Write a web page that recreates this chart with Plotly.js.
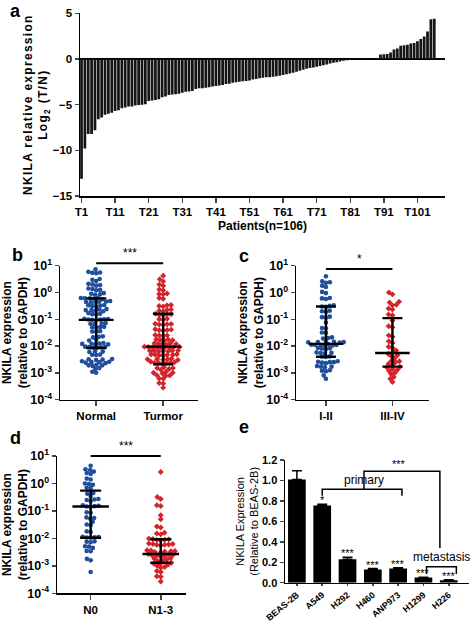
<!DOCTYPE html>
<html><head><meta charset="utf-8">
<script src="https://cdn.plot.ly/plotly-3.0.1.min.js"></script>
<style>body{margin:0;background:#fff}.ytitle{letter-spacing:1.3px}</style>
</head><body><div id="chart" style="width:472px;height:623px"></div>
<script>
// ---------- DATA ----------
const patientLog2 = [-13.1,-9.8,-8.2,-8.2,-7.8,-6.6,-6.4,-6.1,-6.0,-5.9,
-5.7,-5.6,-5.4,-5.3,-5.2,-5.2,-5.1,-5.05,-5.0,-4.95,
-4.6,-4.55,-4.5,-4.4,-4.2,-4.1,-3.95,-3.9,-3.85,-3.8,
-3.7,-3.6,-3.55,-3.5,-3.3,-3.2,-3.2,-3.15,-3.1,-3.0,
-2.95,-2.9,-2.85,-2.75,-2.7,-2.6,-2.55,-2.5,-2.45,-2.4,
-2.35,-2.25,-2.2,-2.1,-2.05,-2.0,-2.0,-1.95,-1.9,-1.85,
-1.75,-1.68,-1.6,-1.5,-1.4,-1.28,-1.18,-1.08,-1.0,-0.92,
-0.85,-0.77,-0.7,-0.6,-0.5,-0.42,-0.35,-0.28,-0.2,-0.14,
-0.1,-0.06,-0.04,-0.03,-0.02,-0.02,-0.01,0.01,0.02,
0.5,0.52,0.55,0.7,1.05,1.15,1.45,1.5,1.55,1.7,1.75,1.95,2.2,2.45,3.0,4.35,4.4];
const patientTicks = [1,11,21,31,41,51,61,71,81,91,101];
const patientTickLabels = ['T1','T11','T21','T31','T41','T51','T61','T71','T81','T91','T101'];

const groupsB = ['Normal','Turmor'];
const normalB = [7.3,5.2,5.6,5.9,5.4,2.7,3.0,3.2,1.8,2.0,1.9,2.1,1.25,1.35,1.2,1.4,0.85,0.9,0.82,0.95,
0.58,0.62,0.6,0.64,0.56,0.61,0.44,0.46,0.42,0.48,0.45,0.43,0.31,0.33,0.3,0.34,0.32,
0.21,0.23,0.22,0.2,0.24,0.22,0.15,0.16,0.17,0.155,0.095,0.1,0.105,0.098,0.092,0.102,0.097,
0.068,0.072,0.07,0.066,0.05,0.048,0.052,0.051,0.034,0.036,0.035,0.022,0.021,0.023,0.017,0.016,
0.012,0.0125,0.0118,0.0122,0.013,0.0115,0.009,0.0088,0.0092,0.0095,0.0086,0.0091,
0.0062,0.006,0.0064,0.0047,0.0046,0.0048,0.0032,0.0031,0.0033,0.003,
0.0025,0.0026,0.0024,0.0025,0.0027,0.0023,0.0019,0.0018,0.002,0.0019,0.0014,0.0015,0.0011,0.001];
const tumorB = [4.2,2.6,3.1,1.8,2.0,1.3,1.2,0.88,0.92,0.85,0.58,0.62,0.33,0.31,0.34,0.3,0.22,0.21,0.23,0.2,
0.15,0.155,0.145,0.16,0.14,0.1,0.095,0.105,0.065,0.062,0.068,0.064,0.066,0.04,0.038,0.042,0.041,0.039,
0.025,0.026,0.024,0.025,0.017,0.018,0.016,0.0175,0.0165,0.012,0.0125,0.0118,0.0122,0.0128,0.0115,
0.009,0.0092,0.0088,0.0095,0.0085,0.0091,0.0089,0.0093,0.0087,
0.0065,0.0063,0.0067,0.0064,0.0066,0.0062,0.0068,0.0047,0.0046,0.0048,0.0045,0.0049,0.0047,0.0044,
0.0032,0.0031,0.0033,0.003,0.0034,0.0032,0.0024,0.0025,0.0023,0.0024,0.0026,0.0022,0.0024,
0.0015,0.0016,0.0014,0.0015,0.0013,0.001,0.0011,0.00095,0.001,0.0008,0.00082,0.00078,
0.0006,0.00062,0.0004,0.00042,0.00028];
const medB = [0.095,0.0095], q1B = [0.0085,0.0021], q3B = [0.6,0.16];

const groupsC = ['I-II','III-IV'];
const stage12 = [4.0,2.4,2.6,2.3,1.6,1.8,0.95,1.05,0.6,0.62,0.57,0.3,0.32,0.29,0.33,0.2,0.21,0.19,
0.12,0.125,0.115,0.075,0.045,0.047,0.032,0.031,0.02,0.021,0.019,
0.014,0.0145,0.0135,0.015,0.0138,0.0142,0.011,0.0112,0.0108,0.0115,0.0105,0.0111,0.0109,
0.008,0.0082,0.0078,0.0085,0.0055,0.0056,0.0054,0.0058,0.004,0.0041,0.0039,
0.0025,0.0026,0.0024,0.0027,0.0023,0.0025,0.0017,0.0018,0.0016,0.0017,0.0012,0.00125,0.00115,0.0008,0.0006];
const stage34 = [1.0,0.85,0.45,0.42,0.35,0.33,0.25,0.23,0.15,0.14,
0.09,0.055,0.05,0.025,0.022,0.015,0.013,0.0095,0.0085,0.0068,
0.0058,0.0052,0.0045,0.0042,0.0035,0.0028,0.0027,0.0025,0.0022,0.002,
0.0017,0.0016,0.0014,0.0013,0.0012,0.001,0.0009,0.0007,0.0006,0.00045];
const medC = [0.012,0.0055], q1C = [0.004,0.0017], q3C = [0.3,0.11];

const groupsD = ['N0','N1-3'];
const n0 = [4.4,3.1,2.7,3.3,2.4,2.2,1.5,1.4,1.0,0.95,0.9,0.7,0.68,0.42,0.45,0.35,0.25,0.27,0.23,0.26,
0.15,0.14,0.16,0.145,0.155,0.09,0.085,0.055,0.058,0.052,0.04,0.03,0.032,0.018,0.017,
0.011,0.0105,0.0112,0.0108,0.0115,0.0075,0.0078,0.0072,0.005,0.0052,0.0045,0.0034,0.0035,0.0018,0.0016,0.0006];
const n13 = [2.6,0.32,0.27,0.16,0.15,0.07,0.05,0.025,0.027,0.015,0.014,0.016,
0.009,0.0095,0.0088,0.0092,0.0085,0.0098,0.006,0.0062,0.0058,0.0065,0.0055,0.0063,0.0059,
0.0034,0.0035,0.0032,0.0036,0.0033,0.0031,0.0037,0.0025,0.0024,0.0026,0.0023,0.0027,0.0024,0.0022,
0.0017,0.0018,0.0016,0.0019,0.0015,0.0012,0.0013,0.0011,0.0012,0.0009,0.001,0.00085,
0.0006,0.00065,0.0004,0.00042,0.00027];
const medD = [0.145,0.0027], q1D = [0.0105,0.0013], q3D = [0.55,0.0093];

const cellLines = ['BEAS-2B','A549','H292','H460','ANP973','H1299','H226'];
const cellMeans = [1.01,0.755,0.23,0.13,0.14,0.05,0.025];
const cellErr = [0.085,0.012,0.018,0.008,0.005,0.004,0.004];
const cellStars = ['','*','***','***','***','***','***'];

// ---------- HELPERS ----------
const W = 472, H = 623;
const px = x => x / W, py = y => 1 - y / H;
const FONT = 'Liberation Sans, Arial, sans-serif';
const BLUE = '#1f4e9b', RED = '#d3242b';

function swarm(vals, plotH, unitPx, d) {
  const ys = vals.map(v => (Math.log10(v) + 4) / 5 * plotH);
  const order = ys.map((y, i) => i).sort((a, b) => ys[a] - ys[b]);
  const placed = [], xs = new Array(vals.length);
  for (const i of order) {
    const y = ys[i];
    const ivs = placed.filter(p => Math.abs(p.y - y) < d).map(p => {
      const dx = Math.sqrt(d * d - (p.y - y) * (p.y - y)); return [p.x - dx, p.x + dx];
    });
    const cands = [0]; ivs.forEach(iv => cands.push(iv[0], iv[1]));
    cands.sort((a, b) => Math.abs(a) - Math.abs(b));
    let x = 0;
    for (const c of cands) {
      if (ivs.every(iv => c <= iv[0] + 1e-6 || c >= iv[1] - 1e-6)) { x = c; break; }
    }
    placed.push({x, y}); xs[i] = x / unitPx;
  }
  return xs;
}
function summaryTrace(med, q1, q3, xa, ya) {
  const x = [], y = [];
  med.forEach((m, k) => {
    x.push(k - 0.26, k + 0.26, null, k, k, null, k - 0.15, k + 0.15, null, k - 0.15, k + 0.15, null);
    y.push(m, m, null, q1[k], q3[k], null, q1[k], q1[k], null, q3[k], q3[k], null);
  });
  return {type: 'scatter', mode: 'lines', x, y, xaxis: xa, yaxis: ya,
    line: {color: '#000', width: 2.4}, hoverinfo: 'skip', showlegend: false, connectgaps: false};
}
function dots(vals, k, plotH, unitPx, xa, ya, color, symbol) {
  const off = swarm(vals, plotH, unitPx, 4.0);
  return {type: 'scatter', mode: 'markers', x: off.map(o => k + o), y: vals, xaxis: xa, yaxis: ya,
    marker: {color, size: 4.6, symbol, line: {width: 0}}, showlegend: false};
}

const traces = [];
traces.push({type: 'bar', x: patientLog2.map((v, i) => i + 1), y: patientLog2, xaxis: 'x', yaxis: 'y',
  marker: {color: '#151515'}, width: 0.82, showlegend: false});
traces.push(dots(normalB, 0, 134, 67, 'x2', 'y2', BLUE, 'circle'));
traces.push(dots(tumorB, 1, 134, 67, 'x2', 'y2', RED, 'diamond'));
traces.push(summaryTrace(medB, q1B, q3B, 'x2', 'y2'));
traces.push(dots(stage12, 0, 134, 67, 'x3', 'y3', BLUE, 'circle'));
traces.push(dots(stage34, 1, 134, 67, 'x3', 'y3', RED, 'diamond'));
traces.push(summaryTrace(medC, q1C, q3C, 'x3', 'y3'));
traces.push(dots(n0, 0, 137, 70, 'x4', 'y4', BLUE, 'circle'));
traces.push(dots(n13, 1, 137, 70, 'x4', 'y4', RED, 'diamond'));
traces.push(summaryTrace(medD, q1D, q3D, 'x4', 'y4'));
traces.push({type: 'bar', x: cellLines.map((c, i) => i), y: cellMeans, xaxis: 'x5', yaxis: 'y5',
  marker: {color: '#000'}, width: 0.7, showlegend: false,
  error_y: {type: 'data', symmetric: false, array: cellErr, arrayminus: cellErr.map(() => 0),
    color: '#000', thickness: 1.5, width: 5}});

const tf = (s) => ({family: FONT, size: s, color: '#000', weight: 'bold'});
const logTicks = {type: 'log', range: [-4, 1], tickvals: [1e-4, 1e-3, 1e-2, 1e-1, 1, 10],
  ticktext: ['10<sup>-4</sup>', '10<sup>-3</sup>', '10<sup>-2</sup>', '10<sup>-1</sup>', '10<sup>0</sup>', '10<sup>1</sup>'],
  ticks: 'outside', ticklen: 4, tickwidth: 1.5, showline: true, linewidth: 1.5, linecolor: '#000',
  showgrid: false, zeroline: false, tickfont: tf(12.5)};
const catAx = (labels, dom, range, anchor) => ({domain: dom, range, tickvals: labels.map((l, i) => i), ticktext: labels,
  ticks: 'outside', ticklen: 5, tickwidth: 1.5, showline: true, linewidth: 1.5, linecolor: '#000',
  showgrid: false, zeroline: false, tickfont: tf(11.5), anchor});
const ytitleBCD = (s) => ({text: 'NKILA expression<br>(relative to GAPDH)', font: tf(12), standoff: s});

const layout = {
  width: W, height: H, margin: {l: 0, r: 0, t: 0, b: 0}, paper_bgcolor: '#fff', plot_bgcolor: 'rgba(0,0,0,0)',
  showlegend: false, bargap: 0.15, font: {family: FONT, color: '#000'},
  xaxis: {domain: [px(80), px(445)], range: [0.55, 109.2], tickvals: patientTicks, ticktext: patientTickLabels,
    ticks: 'outside', ticklen: 5, tickwidth: 1.5, showline: true, linewidth: 1.5, linecolor: '#000',
    showgrid: false, zeroline: false, tickfont: tf(11.5), anchor: 'y',
    title: {text: 'Patients(n=106)', font: tf(12), standoff: 4}},
  yaxis: {domain: [py(196), py(13.3)], range: [-15, 5], tickvals: [-15, -10, -5, 0, 5],
    ticks: 'outside', ticklen: 4, tickwidth: 1.5, showline: true, linewidth: 1.5, linecolor: '#000',
    showgrid: false, zeroline: true, zerolinecolor: '#000', zerolinewidth: 1.5, tickfont: tf(11.5), anchor: 'x',
    title: {text: 'NKILA relative expression<br>Log<sub>2</sub> (T/N)', font: tf(12), standoff: 2}},
  xaxis2: catAx(groupsB, [px(60), px(198)], [-0.54, 1.52], 'y2'),
  yaxis2: Object.assign({}, logTicks, {domain: [py(399.6), py(265.7)], anchor: 'x2', title: ytitleBCD(0)}),
  xaxis3: catAx(groupsC, [px(296), px(429)], [-0.45, 1.55], 'y3'),
  yaxis3: Object.assign({}, logTicks, {domain: [py(399.6), py(265.7)], anchor: 'x3', title: ytitleBCD(0)}),
  xaxis4: catAx(groupsD, [px(57), px(186)], [-0.48, 1.36], 'y4'),
  yaxis4: Object.assign({}, logTicks, {domain: [py(593.3), py(456)], anchor: 'x4', title: ytitleBCD(0)}),
  xaxis5: {domain: [px(285), px(469)], range: [-0.47, 6.8], tickvals: cellLines.map((c, i) => i), ticktext: cellLines,
    tickangle: -40, ticks: 'outside', ticklen: 2, tickwidth: 1.5, showline: true, linewidth: 1.5, linecolor: '#000',
    showgrid: false, zeroline: false, tickfont: tf(9), anchor: 'y5'},
  yaxis5: {domain: [py(582.7), py(460)], range: [0, 1.2], tickvals: [0, 0.2, 0.4, 0.6, 0.8, 1.0, 1.2],
    ticktext: ['0.0', '0.2', '0.4', '0.6', '0.8', '1.0', '1.2'],
    ticks: 'outside', ticklen: 4, tickwidth: 1.5, showline: true, linewidth: 1.5, linecolor: '#000',
    showgrid: false, zeroline: false, tickfont: tf(11), anchor: 'x5',
    title: {text: 'NKILA Expression<br>(Relative to BEAS-2B)', font: {family: FONT, size: 11, color: '#000'}, standoff: 1}},
  shapes: [], annotations: []
};

const sig = [
  ['x2', 0, 1, 263.3, '***'],
  ['x3', 0, 1, 269, '*'],
  ['x4', 0, 1, 456, '***']
];
sig.forEach(s => {
  layout.shapes.push({type: 'line', xref: s[0], yref: 'paper', x0: s[1], x1: s[2], y0: py(s[3]), y1: py(s[3]),
    line: {color: '#000', width: 2}});
  layout.annotations.push({xref: s[0], yref: 'paper', x: (s[1] + s[2]) / 2, y: py(s[3] - 1), yanchor: 'bottom',
    text: s[4], showarrow: false, font: {family: FONT, size: 12, color: '#000'}});
});
cellStars.forEach((s, i) => {
  if (s) layout.annotations.push({xref: 'x5', yref: 'y5', x: i, y: cellMeans[i] + cellErr[i], yanchor: 'bottom',
    yshift: -4, text: s, showarrow: false, font: {family: FONT, size: 11, color: '#000'}});
});
const br = (pts) => layout.shapes.push({type: 'path', xref: 'x5', yref: 'y5',
  path: 'M' + pts.map(p => p[0] + ',' + p[1]).join(' L'), line: {color: '#000', width: 1.5}});
br([[1, 0.85], [1, 0.913], [4.15, 0.913], [4.15, 0.85]]);
br([[2.65, 0.913], [2.65, 1.09], [5.65, 1.09], [5.65, 0.34]]);
br([[5.12, 0.085], [5.12, 0.156], [6.3, 0.156], [6.3, 0.085]]);
layout.annotations.push({xref: 'x5', yref: 'y5', x: 2.65, y: 0.92, yanchor: 'bottom', text: 'primary',
  showarrow: false, font: {family: FONT, size: 12, color: '#000'}});
layout.annotations.push({xref: 'x5', yref: 'y5', x: 4.03, y: 1.08, yanchor: 'bottom', text: '***',
  showarrow: false, font: {family: FONT, size: 11, color: '#000'}});
layout.annotations.push({xref: 'x5', yref: 'y5', x: 5.7, y: 0.16, yanchor: 'bottom', text: 'metastasis',
  showarrow: false, font: {family: FONT, size: 12, color: '#000'}});
[['a', 15, 11], ['b', 17, 255], ['c', 244, 256], ['d', 15, 438], ['e', 244, 427]].forEach(l => {
  layout.annotations.push({xref: 'paper', yref: 'paper', x: px(l[1]), y: py(l[2]), xanchor: 'center', yanchor: 'middle',
    text: l[0], showarrow: false, font: {family: FONT, size: 18, color: '#000', weight: 'bold'}});
});

Plotly.newPlot('chart', traces, layout, {staticPlot: true, displayModeBar: false});
</script></body></html>
